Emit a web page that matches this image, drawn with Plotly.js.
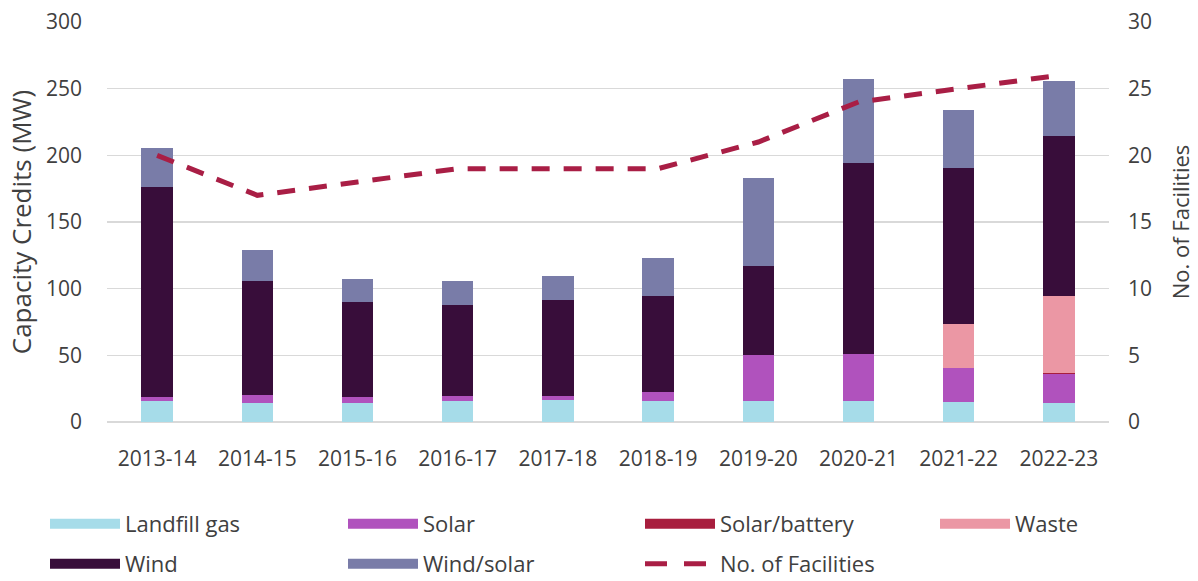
<!DOCTYPE html>
<html>
<head>
<meta charset="utf-8">
<script src="https://cdn.plot.ly/plotly-3.0.1.min.js"></script>
<style>html,body{margin:0;padding:0;background:#fff;}#chart{width:1198px;height:581px;}</style>
</head>
<body>
<div id="chart"></div>
<script>
const years = ["2013-14","2014-15","2015-16","2016-17","2017-18","2018-19","2019-20","2020-21","2021-22","2022-23"];
const landfillGas  = [15.5, 14.5, 14.5, 15.5, 16.5, 15.8, 15.8, 15.8, 15.0, 14.5];
const solar        = [3.0, 6.0, 4.5, 4.0, 3.0, 6.5, 34.7, 35.5, 25.8, 21.5];
const solarBattery = [0, 0, 0, 0, 0, 0, 0, 0, 0, 0.8];
const waste        = [0, 0, 0, 0, 0, 0, 0, 0, 33.0, 58.0];
const wind         = [158.0, 85.5, 71.0, 68.0, 72.0, 72.5, 66.8, 143.0, 117.0, 120.0];
const windSolar    = [29.0, 23.0, 17.5, 18.0, 18.0, 28.0, 66.0, 62.7, 43.0, 41.0];
const facilities   = [20, 17, 18, 19, 19, 19, 21, 24, 25, 26];

const colors = {
  landfill: "#a6dce9",
  solar: "#b052bd",
  solarBattery: "#a81e3e",
  waste: "#eb97a4",
  wind: "#380d3a",
  windSolar: "#797ca8",
  line: "#a91e45"
};

const textColor = "#404040";
const fontFamily = "Open Sans, sans-serif";
const font = {family: fontFamily, size: 21, color: textColor};

function barTrace(name, y, color) {
  return {type: "bar", name: name, x: years, y: y, marker: {color: color, line: {width: 0}},
          showlegend: false, hoverinfo: "x+y+name"};
}
function legendProxy(name, color, legend) {
  return {type: "scatter", mode: "lines", name: name, x: [null], y: [null],
          line: {color: color, width: 14}, legend: legend, showlegend: true, hoverinfo: "skip"};
}

const data = [
  barTrace("Landfill gas", landfillGas, colors.landfill),
  barTrace("Solar", solar, colors.solar),
  barTrace("Solar/battery", solarBattery, colors.solarBattery),
  barTrace("Waste", waste, colors.waste),
  barTrace("Wind", wind, colors.wind),
  barTrace("Wind/solar", windSolar, colors.windSolar),
  {type: "scatter", mode: "lines", name: "No. of Facilities", x: years, y: facilities, yaxis: "y2",
   line: {color: colors.line, width: 5, dash: "18px,14px"}, showlegend: false},
  legendProxy("Landfill gas", colors.landfill, "legend"),
  legendProxy("Solar", colors.solar, "legend"),
  legendProxy("Solar/battery", colors.solarBattery, "legend3"),
  legendProxy("Waste", colors.waste, "legend3"),
  legendProxy("Wind", colors.wind, "legend2"),
  legendProxy("Wind/solar", colors.windSolar, "legend2"),
  {type: "scatter", mode: "lines", name: "No. of Facilities", x: [null], y: [null],
   line: {color: colors.line, width: 5, dash: "22px,17px"}, legend: "legend4", showlegend: true, hoverinfo: "skip"}
];

const legendCommon = {
  orientation: "h", xref: "container", yref: "container", xanchor: "left", yanchor: "middle",
  font: {family: fontFamily, size: 22, color: textColor},
  itemwidth: 70, entrywidthmode: "pixels", bgcolor: "rgba(0,0,0,0)",
  traceorder: "normal", itemclick: false
};
const row1 = 1 - 524/581, row2 = 1 - 564/581;

const layout = {
  width: 1198, height: 581,
  margin: {l: 107, r: 89, t: 22, b: 159},
  paper_bgcolor: "#ffffff", plot_bgcolor: "#ffffff",
  font: font,
  barmode: "stack",
  bargap: 0.685,
  showlegend: true,
  xaxis: {type: "category", showgrid: false, zeroline: false, showline: false, ticks: "",
          tickfont: font, ticklabelstandoff: 22},
  yaxis: {range: [0, 300], dtick: 50, showgrid: true, gridcolor: "#d9d9d9", gridwidth: 1.5,
          zeroline: true, zerolinecolor: "#d9d9d9", zerolinewidth: 1.5, showline: false,
          tickfont: font, ticklabelstandoff: 24,
          title: {text: "Capacity Credits (MW)", font: {family: fontFamily, size: 26, color: textColor}, standoff: 6}},
  yaxis2: {overlaying: "y", side: "right", range: [0, 30], dtick: 5, showgrid: false, zeroline: false,
           showline: false, tickfont: font, ticklabelstandoff: 18,
           title: {text: "No. of Facilities", font: {family: fontFamily, size: 22, color: textColor}, standoff: 22}},
  legend:  Object.assign({}, legendCommon, {x: 45/1198,  y: row1, entrywidth: 213}),
  legend3: Object.assign({}, legendCommon, {x: 640/1198, y: row1, entrywidth: 210}),
  legend2: Object.assign({}, legendCommon, {x: 45/1198,  y: row2, entrywidth: 213}),
  legend4: Object.assign({}, legendCommon, {x: 640/1198, y: row2, entrywidth: 210})
};

Plotly.newPlot("chart", data, layout, {displayModeBar: false, staticPlot: true});
</script>
</body>
</html>
